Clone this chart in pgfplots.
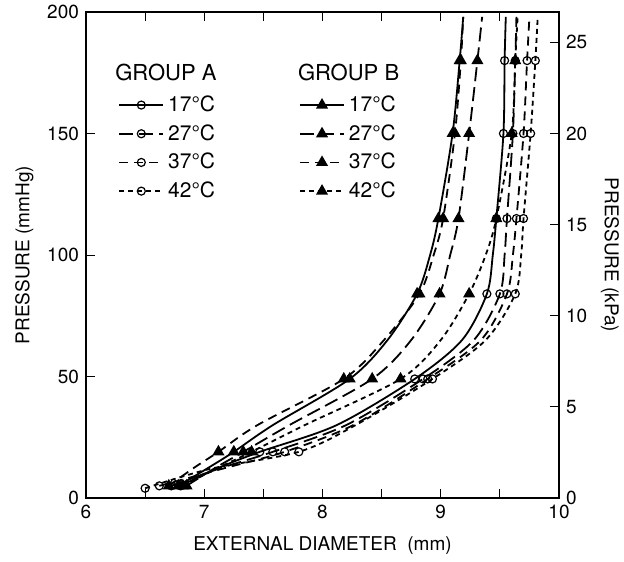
\documentclass[border=0pt]{standalone}
\usepackage{fontspec}
\setmainfont{TeX Gyre Heros}
\usepackage{pgfplots}
\pgfplotsset{compat=1.18}

\pgfplotsset{
  lA17/.style={black, line width=0.9pt, solid},
  lA27/.style={black, line width=0.9pt, dash pattern=on 7pt off 3pt},
  lA37/.style={black, line width=0.9pt, dash pattern=on 4.5pt off 3pt},
  lA42/.style={black, line width=0.9pt, dash pattern=on 2.5pt off 2pt},
  mA/.style={mark=o, mark size=2pt, mark options={solid, line width=0.6pt}},
  mB/.style={mark=triangle*, mark size=2.6pt, mark options={solid, fill=black}},
}

\begin{document}
\begin{tikzpicture}
\begin{axis}[
    name=ax, scale only axis, width=236.5pt, height=243pt,
    xmin=6, xmax=10, ymin=0, ymax=200,
    xtick={6,7,8,9,10}, minor xtick={6.5,7.5,8.5,9.5},
    ytick={0,50,100,150,200},
    xtick pos=both, ytick pos=left, tick align=inside,
    major tick length=4.5pt, minor tick length=4.5pt,
    every tick/.style={black, line width=0.4pt},
    axis line style={line width=0.6pt},
    tick label style={font=\fontsize{9.5}{11}\selectfont},
    /pgf/number format/assume math mode=true,
    label style={font=\fontsize{9.5}{11}\selectfont},
    xlabel={EXTERNAL DIAMETER\ \ (mm)},
    ylabel={PRESSURE (mmHg)},
    xlabel style={yshift=-2pt},
    legend cell align=left,
    legend style={draw=none, fill=none, at={(0.055,0.845)}, anchor=north west,
      font=\fontsize{10.5}{12}\selectfont, row sep=1pt,
      /tikz/every even column/.append style={column sep=40pt}},
    legend columns=2,
    legend image code/.code={\draw[#1, mark indices={2}] plot coordinates {(0pt,0pt) (11pt,0pt) (22pt,0pt)};},
]
% group A (circles)
\addplot[lA17, mA, smooth, mark indices={1,3,5,7,9,10,11}, forget plot] coordinates {(6.80,5)(7.10,12)(7.47,19)(8.12,30)(8.78,49)(9.18,65)(9.39,84)(9.44,100)(9.47,115)(9.53,150)(9.54,180)(9.55,198)};
\addplot[lA27, mA, smooth, mark indices={1,3,5,7,9,10,11}, forget plot] coordinates {(6.72,5)(7.12,12)(7.58,19)(8.20,30)(8.85,49)(9.28,65)(9.50,84)(9.54,100)(9.56,115)(9.61,150)(9.63,180)(9.64,198)};
\addplot[lA37, mA, smooth, mark indices={1,3,5,7,9,10,11}, forget plot] coordinates {(6.62,5)(7.15,12)(7.68,19)(8.26,30)(8.89,49)(9.34,65)(9.56,84)(9.61,100)(9.64,115)(9.70,150)(9.73,180)(9.75,198)};
\addplot[lA42, mA, smooth, mark indices={1,3,5,7,9,10,11}, forget plot] coordinates {(6.50,4)(7.05,12)(7.80,19)(8.28,30)(8.93,49)(9.38,65)(9.63,84)(9.68,100)(9.70,115)(9.76,150)(9.80,180)(9.82,198)};
% group B (triangles)
\addplot[lA17, mB, smooth, mark indices={1,3,5,7,9,10,11}, forget plot] coordinates {(6.78,5)(7.02,12)(7.25,19)(7.58,30)(8.23,49)(8.55,65)(8.80,84)(8.91,100)(8.98,115)(9.10,150)(9.16,180)(9.19,198)};
\addplot[lA27, mB, smooth, mark indices={1,3,5,7,9,10,11}, forget plot] coordinates {(6.85,5)(7.08,12)(7.33,19)(7.72,30)(8.42,49)(8.75,65)(8.99,84)(9.08,100)(9.15,115)(9.24,150)(9.31,180)(9.35,198)};
\addplot[lA37, mB, smooth, mark indices={1,3,5,7,9,10,11}, forget plot] coordinates {(6.70,5)(6.90,12)(7.12,19)(7.45,30)(8.18,49)(8.52,65)(8.82,84)(8.94,100)(9.02,115)(9.12,150)(9.17,180)(9.19,198)};
\addplot[lA42, mB, smooth, mark indices={1,3,5,7,9,10,11}, forget plot] coordinates {(6.82,5)(7.10,12)(7.40,19)(7.85,30)(8.66,49)(9.00,65)(9.24,84)(9.38,100)(9.47,115)(9.60,150)(9.63,180)(9.65,198)};
% legend
\addlegendimage{lA17, mA}\addlegendentry{17°C}
\addlegendimage{lA17, mB}\addlegendentry{17°C}
\addlegendimage{lA27, mA}\addlegendentry{27°C}
\addlegendimage{lA27, mB}\addlegendentry{27°C}
\addlegendimage{lA37, mA}\addlegendentry{37°C}
\addlegendimage{lA37, mB}\addlegendentry{37°C}
\addlegendimage{lA42, mA}\addlegendentry{42°C}
\addlegendimage{lA42, mB}\addlegendentry{42°C}
\node[anchor=west, font=\fontsize{11}{13}\selectfont, inner sep=0pt] at (axis cs:6.245,175) {GROUP A};
\node[anchor=west, font=\fontsize{11}{13}\selectfont, inner sep=0pt] at (axis cs:7.79,175) {GROUP B};
\end{axis}
\begin{axis}[
    scale only axis, width=236.5pt, height=243pt,
    xmin=6, xmax=10, ymin=0, ymax=26.664,
    axis x line=none, axis y line*=right,
    ytick={0,5,10,15,20,25}, tick align=inside,
    major tick length=4.5pt,
    every tick/.style={black, line width=0.4pt},
    axis line style={line width=0.6pt},
    tick label style={font=\fontsize{9.5}{11}\selectfont},
    /pgf/number format/assume math mode=true,
    ylabel={PRESSURE (kPa)},
    ylabel style={font=\fontsize{9.5}{11}\selectfont, rotate=180},
]
\end{axis}
\pgfresetboundingbox
\useasboundingbox ([shift={(-43pt,-31.5pt)}]ax.south west) rectangle ([shift={(32.5pt,6pt)}]ax.north east);
\end{tikzpicture}
\end{document}
